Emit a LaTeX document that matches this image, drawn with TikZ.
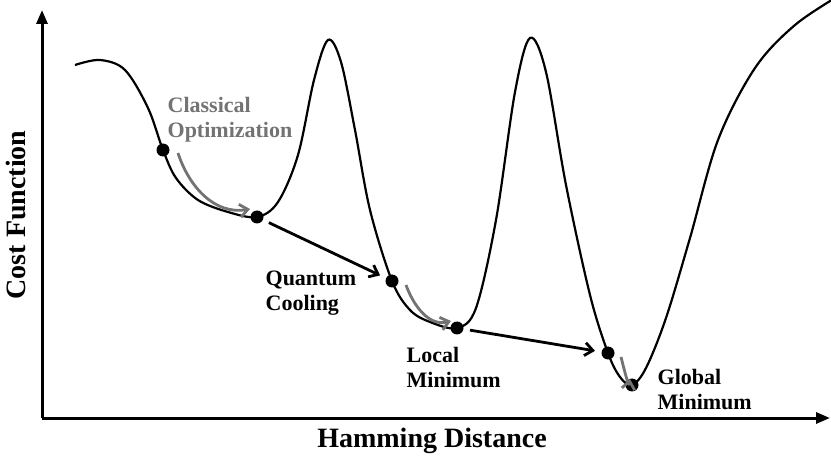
\documentclass[tikz,border=0pt]{standalone}
\usepackage{fontspec}
\setmainfont{Liberation Serif}
\usetikzlibrary{arrows.meta}

\begin{document}
\begin{tikzpicture}[x=1pt, y=-1pt, line width=1.3pt,
  dot/.style={circle, fill=black, inner sep=0pt, minimum size=13pt},
  lbl/.style={font=\bfseries\fontsize{22}{25}\selectfont, align=left, inner sep=0pt},
  hop/.style={-{Straight Barb[length=8pt, width=13pt]}, line width=2.8pt, shorten >=6pt, shorten <=6pt},
  slide/.style={-{Straight Barb[length=8pt, width=13pt]}, line width=2.8pt, black!55}]

  \useasboundingbox (0,0) rectangle (831,457);

  \begin{scope}

  % axes
  \draw (42,418) node[name=o] {};
  \draw (42,10) node[name=ytip] {};
  \draw (830,418) node[name=xtip] {};
  \draw [-{Triangle[length=14pt, width=11pt]}, line width=3pt] (o.center) -- (ytip.center);
  \draw [-{Triangle[length=14pt, width=11pt]}, line width=3pt] (o.center) -- (xtip.center);

  \draw (432,441) node[name=xlab, font=\bfseries\fontsize{28}{30}\selectfont] {Hamming Distance};
  \draw (16,215) node[name=ylab, rotate=90, font=\bfseries\fontsize{28}{30}\selectfont] {Cost Function};

  % landscape
  \begin{scope}
  \clip (0,0) rectangle (831,457);
  \draw [line width=2.2pt] plot[smooth, tension=0.55] coordinates {
    (75,65) (100,60) (125,70) (148,108) (163,150) (176,178) (198,200) (228,212) (257,217)
    (278,202) (298,155) (314,80) (328,40) (341,62) (355,130) (370,210) (392,281)
    (410,310) (430,322) (457,328) (476,308) (496,220) (515,92) (530,38) (546,72)
    (566,185) (590,295) (608,353) (620,377) (632,385) (646,368) (666,318) (690,238)
    (718,140) (755,68) (795,25) (840,-5)};
  \end{scope}

  \draw (163,150) node[dot, name=p1] {};
  \draw (257,217) node[dot, name=p2] {};
  \draw (392,281) node[dot, name=p3] {};
  \draw (457,328) node[dot, name=p4] {};
  \draw (608,353) node[dot, name=p5] {};
  \draw (632,385) node[dot, name=p6] {};

  % quantum hops
  \draw [hop] (p2) -- (p3);
  \draw [hop] (p4) -- (p5);

  % classical descent
  \draw (178,153) coordinate (a1);
  \draw (250,209) coordinate (b1);
  \draw (406,285) coordinate (a2);
  \draw (451,321) coordinate (b2);
  \draw (621,357) coordinate (a3);
  \draw (630,379) coordinate (b3);
  \draw [slide] (a1) to[out=-72, in=190] (b1);
  \draw [slide] (a2) to[out=-70, in=195] (b2);
  \draw [slide] (a3) to[out=-75, in=-100] (b3);

  \draw (167,120) node[lbl, anchor=west, black!55, name=lco] {Classical\\Optimization};
  \draw (265,293) node[lbl, anchor=west, name=lqc] {Quantum\\Cooling};
  \draw (406,368) node[lbl, anchor=west, name=llm] {Local\\Minimum};
  \draw (657,390) node[lbl, anchor=west, name=lgm] {Global\\Minimum};

  \end{scope}

\end{tikzpicture}
\end{document}
